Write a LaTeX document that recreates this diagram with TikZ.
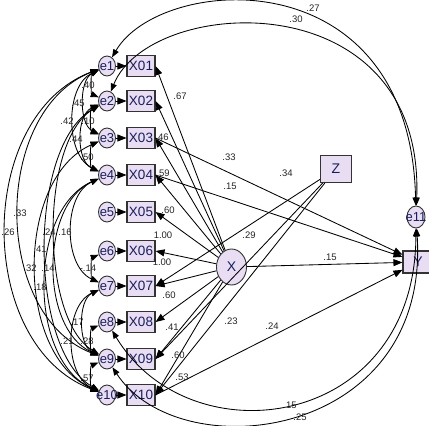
\documentclass[tikz,border=0pt]{standalone}
\usepackage{fontspec}
\setmainfont{Liberation Sans}
\usetikzlibrary{arrows.meta,shapes.geometric}
\definecolor{boxfill}{RGB}{232,221,243}
\definecolor{nodetext}{RGB}{25,30,90}
\begin{document}
\begin{tikzpicture}[x=1pt,y=-1pt,
  obs/.style={draw=black!80, line width=1.1pt, fill=boxfill, minimum width=28pt, minimum height=21pt, inner sep=0pt, font=\fontsize{13.5}{13.5}\selectfont, text=nodetext},
  err/.style={ellipse, draw=black!80, line width=0.9pt, fill=boxfill, minimum width=17pt, minimum height=20pt, inner sep=0pt, font=\fontsize{13}{13}\selectfont, text=nodetext},
  lat/.style={ellipse, draw=black!80, line width=0.9pt, fill=boxfill, minimum width=30pt, minimum height=36pt, inner sep=0pt, font=\fontsize{14}{14}\selectfont, text=nodetext},
  lab/.style={font=\fontsize{9.5}{9.5}\selectfont, inner sep=0pt, text=black!85},
  reg/.style={-{Triangle[length=9pt,width=7pt]}, line width=0.85pt},
  cov/.style={{Triangle[length=8pt,width=6pt]}-{Triangle[length=8pt,width=6pt]}, line width=0.85pt},
]
\useasboundingbox (0,0) rectangle (429,426);
\fill[white] (0,0) rectangle (429,426);

% observed indicators and errors
\foreach \i/\y in {01/66,02/101,03/138,04/175,05/212,06/251,07/286,08/322,09/359,10/395}{
  \node[obs] (X\i) at (141,\y) {X\i};
}
\foreach \i/\y in {1/66,2/101,3/138,4/175,5/212,6/251,7/286,8/322,9/359,10/395}{
  \node[err] (e\i) at (107,\y) {\makebox[10pt]{e\i}};
}
\node[lat] (X) at (231.5,267) {X};
\node[obs, minimum width=31pt, minimum height=27pt, font=\fontsize{14}{14}\selectfont] (Z) at (336,169) {Z};
\node[obs, minimum width=30pt, minimum height=22pt, font=\fontsize{14}{14}\selectfont] (Y) at (418,262) {Y};
\node[err, minimum width=18pt, minimum height=22pt] (e11) at (416,217) {\makebox[10pt]{e11}};

% error -> indicator
\foreach \i/\j in {1/01,2/02,3/03,4/04,5/05,6/06,7/07,8/08,9/09,10/10}{
  \draw[reg] (e\i) -- (X\j);
}

% X -> indicators
\foreach \j in {01,02,03,04,05,06,07,08,09,10}{
  \draw[reg] (X) -- (X\j.east);
}

% Z paths
\draw[reg] (Z) -- (X07.east);
\draw[reg] (Z) -- (X09.east);
\draw[reg] (Z) -- (X10.east);

% paths to Y
\draw[reg] (X03.east) -- (Y);
\draw[reg] (X04.east) -- (Y);
\draw[reg] (X) -- (Y);
\draw[reg] (X10.east) -- (Y);

% large covariances with e11
\draw[cov] (e1) .. controls (160,-25) and (410,-45) .. (e11);
\draw[cov] (e2) .. controls (150,-5) and (425,-20) .. (e11);
\draw[cov] (e8) .. controls (190,460) and (415,430) .. (e11);
\draw[cov] (e9) .. controls (180,470) and (430,440) .. (e11);

% covariances among errors
\draw[cov] (e1) .. controls (91,73) and (91,94) .. (e2);
\draw[cov] (e1) .. controls (79,80) and (79,124) .. (e3);
\draw[cov] (e2) .. controls (90,108) and (90,131) .. (e3);
\draw[cov] (e1) .. controls (65,86) and (65,155) .. (e4);
\draw[cov] (e2) .. controls (76,115) and (76,161) .. (e4);
\draw[cov] (e3) .. controls (90,145) and (90,168) .. (e4);
\draw[cov] (e1) .. controls (-8,111) and (-8,314) .. (e9);
\draw[cov] (e1) .. controls (-25,116) and (-25,345) .. (e10);
\draw[cov] (e2) .. controls (40,141) and (40,319) .. (e9);
\draw[cov] (e4) .. controls (63,195) and (63,266) .. (e7);
\draw[cov] (e2) .. controls (28,146) and (28,350) .. (e10);
\draw[cov] (e3) .. controls (15,178) and (15,355) .. (e10);
\draw[cov] (e4) .. controls (40,205) and (40,329) .. (e9);
\draw[cov] (e6) .. controls (91,258) and (91,279) .. (e7);
\draw[cov] (e4) .. controls (28,210) and (28,360) .. (e10);
\draw[cov] (e7) .. controls (78,300) and (78,345) .. (e9);
\draw[cov] (e7) .. controls (64,306) and (64,375) .. (e10);
\draw[cov] (e8) .. controls (90,329) and (90,352) .. (e9);
\draw[cov] (e9) .. controls (90,366) and (90,388) .. (e10);

% labels
\node[lab] (l1) at (313,8) {.27};
\node[lab] (l2) at (296,19) {.30};
\node[lab] (l3) at (180,96) {.67};
\node[lab] (l4) at (162,137) {.46};
\node[lab] (l5) at (229,157) {.33};
\node[lab] (l6) at (286,173) {.34};
\node[lab] (l7) at (163,173) {.59};
\node[lab] (l8) at (230,186) {.15};
\node[lab] (l9) at (168,210) {.60};
\node[lab] (l10) at (163,235) {1.00};
\node[lab] (l11) at (249,235) {.29};
\node[lab] (l12) at (162,262) {1.00};
\node[lab] (l13) at (330,257) {.15};
\node[lab] (l14) at (169,295) {.60};
\node[lab] (l15) at (172,327) {.41};
\node[lab] (l16) at (231,321) {.23};
\node[lab] (l17) at (272,326) {.24};
\node[lab] (l18) at (178,355) {.60};
\node[lab] (l19) at (182,377) {.53};
\node[lab] (l20) at (290,405) {.15};
\node[lab] (l21) at (300,417) {.25};
\node[lab] (l22) at (88,85) {.40};
\node[lab] (l23) at (78,103) {.45};
\node[lab] (l24) at (67,121) {.42};
\node[lab] (l25) at (88,121) {.10};
\node[lab] (l26) at (76,139) {.44};
\node[lab] (l27) at (87,157) {.50};
\node[lab] (l28) at (20,213) {.33};
\node[lab] (l29) at (8,232) {.26};
\node[lab] (l30) at (49,232) {.24};
\node[lab] (l31) at (65,232) {.16};
\node[lab] (l32) at (40,249) {.41};
\node[lab] (l33) at (30,268) {.32};
\node[lab] (l34) at (48,268) {.14};
\node[lab] (l35) at (88,268) {-.14};
\node[lab] (l36) at (40,287) {.18};
\node[lab] (l37) at (77,322) {.17};
\node[lab] (l38) at (67,341) {.21};
\node[lab] (l39) at (87,341) {.28};
\node[lab] (l40) at (87,378) {.57};
\end{tikzpicture}
\end{document}
